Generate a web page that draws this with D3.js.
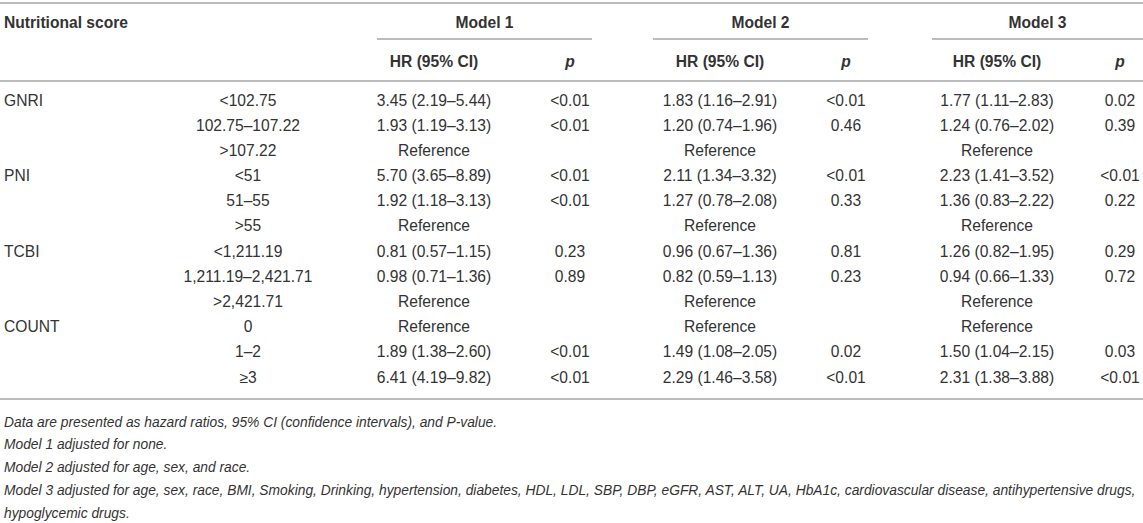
<!DOCTYPE html>
<html>
<head>
<meta charset="utf-8">
<script src="https://cdn.jsdelivr.net/npm/d3@7"></script>
<style>
  html, body { margin: 0; padding: 0; background: #fff; }
  svg { display: block; }
</style>
</head>
<body>
<div id="table"></div>
<script>
// 表格数据
const scoreLabels = ['GNRI', '', '', 'PNI', '', '', 'TCBI', '', '', 'COUNT', '', ''];
const categories = ['<102.75', '102.75–107.22', '>107.22', '<51', '51–55', '>55',
    '<1,211.19', '1,211.19–2,421.71', '>2,421.71', '0', '1–2', '≥3'];

const model1HR = ['3.45 (2.19–5.44)', '1.93 (1.19–3.13)', 'Reference', '5.70 (3.65–8.89)', '1.92 (1.18–3.13)', 'Reference',
    '0.81 (0.57–1.15)', '0.98 (0.71–1.36)', 'Reference', 'Reference', '1.89 (1.38–2.60)', '6.41 (4.19–9.82)'];
const model1P = ['<0.01', '<0.01', '', '<0.01', '<0.01', '', '0.23', '0.89', '', '', '<0.01', '<0.01'];

const model2HR = ['1.83 (1.16–2.91)', '1.20 (0.74–1.96)', 'Reference', '2.11 (1.34–3.32)', '1.27 (0.78–2.08)', 'Reference',
    '0.96 (0.67–1.36)', '0.82 (0.59–1.13)', 'Reference', 'Reference', '1.49 (1.08–2.05)', '2.29 (1.46–3.58)'];
const model2P = ['<0.01', '0.46', '', '<0.01', '0.33', '', '0.81', '0.23', '', '', '0.02', '<0.01'];

const model3HR = ['1.77 (1.11–2.83)', '1.24 (0.76–2.02)', 'Reference', '2.23 (1.41–3.52)', '1.36 (0.83–2.22)', 'Reference',
    '1.26 (0.82–1.95)', '0.94 (0.66–1.33)', 'Reference', 'Reference', '1.50 (1.04–2.15)', '2.31 (1.38–3.88)'];
const model3P = ['0.02', '0.39', '', '<0.01', '0.22', '', '0.29', '0.72', '', '', '0.03', '<0.01'];

const modelNames = ['Model 1', 'Model 2', 'Model 3'];
const subHeaders = ['HR (95% CI)', 'p'];

const footnotes = [
    'Data are presented as hazard ratios, 95% CI (confidence intervals), and P-value.',
    'Model 1 adjusted for none.',
    'Model 2 adjusted for age, sex, and race.',
    'Model 3 adjusted for age, sex, race, BMI, Smoking, Drinking, hypertension, diabetes, HDL, LDL, SBP, DBP, eGFR, AST, ALT, UA, HbA1c, cardiovascular disease, antihypertensive drugs,',
    'hypoglycemic drugs.'
];

const width = 1143;
const height = 523;
const textColor = '#333';
const ruleColor = '#a6a6a6';
const fontFamily = '"Liberation Sans", Arial, Helvetica, sans-serif';
const fontSize = '15.6px';
const noteSize = '13.8px';

const svg = d3.select('#table')
    .append('svg')
    .attr('width', width)
    .attr('height', height)
    .attr('font-family', fontFamily)
    .attr('font-size', fontSize)
    .attr('fill', textColor);

// 列位置
const colKeys = ['cat', 'hr1', 'p1', 'hr2', 'p2', 'hr3', 'p3'];
const xCol = d3.scaleOrdinal()
    .domain(colKeys)
    .range([248, 434, 570, 720, 846, 997, 1120]);

// 模型分组跨度
const modelSpan = d3.scaleOrdinal()
    .domain(modelNames)
    .range([[377, 592], [653, 868], [932, 1143]]);

// 行位置
const rowIdx = d3.range(categories.length);
const yRow = d3.scaleLinear()
    .domain([0, categories.length - 1])
    .range([100, 377]);

const yNote = d3.scaleLinear()
    .domain([0, footnotes.length - 1])
    .range([422, 513]);

// 横线
function rule(x1, x2, y) {
    svg.append('line')
        .attr('x1', x1).attr('x2', x2)
        .attr('y1', y).attr('y2', y)
        .attr('stroke', ruleColor)
        .attr('stroke-width', 1.5);
}
rule(0, width, 3);
rule(0, width, 81);
rule(0, width, 399);

// 表头第一行
svg.append('text')
    .attr('x', 4)
    .attr('y', 22)
    .attr('dominant-baseline', 'central')
    .attr('font-weight', 'bold')
    .text('Nutritional score');

svg.selectAll('.model-head')
    .data(modelNames)
    .enter()
    .append('text')
    .attr('class', 'model-head')
    .attr('x', d => d3.mean(modelSpan(d)))
    .attr('y', 22)
    .attr('text-anchor', 'middle')
    .attr('dominant-baseline', 'central')
    .attr('font-weight', 'bold')
    .text(d => d);

modelNames.forEach(m => {
    const [a, b] = modelSpan(m);
    rule(a, b, 39);
});

// 表头第二行
const subHeadData = modelNames.flatMap((m, i) => [
    { key: 'hr' + (i + 1), text: subHeaders[0], italic: false },
    { key: 'p' + (i + 1), text: subHeaders[1], italic: true }
]);

svg.selectAll('.sub-head')
    .data(subHeadData)
    .enter()
    .append('text')
    .attr('class', 'sub-head')
    .attr('x', d => xCol(d.key))
    .attr('y', 61)
    .attr('text-anchor', 'middle')
    .attr('dominant-baseline', 'central')
    .attr('font-weight', 'bold')
    .attr('font-style', d => d.italic ? 'italic' : 'normal')
    .text(d => d.text);

// 数据单元格
const columns = {
    cat: categories,
    hr1: model1HR, p1: model1P,
    hr2: model2HR, p2: model2P,
    hr3: model3HR, p3: model3P
};

const cells = rowIdx.flatMap(i => colKeys.map(k => ({ i, k, text: columns[k][i] })))
    .filter(d => d.text !== '');

svg.selectAll('.cell')
    .data(cells)
    .enter()
    .append('text')
    .attr('class', 'cell')
    .attr('x', d => xCol(d.k))
    .attr('y', d => yRow(d.i))
    .attr('text-anchor', 'middle')
    .attr('dominant-baseline', 'central')
    .text(d => d.text);

svg.selectAll('.score')
    .data(rowIdx.filter(i => scoreLabels[i] !== ''))
    .enter()
    .append('text')
    .attr('class', 'score')
    .attr('x', 4)
    .attr('y', d => yRow(d))
    .attr('dominant-baseline', 'central')
    .text(d => scoreLabels[d]);

// 脚注
svg.selectAll('.note')
    .data(footnotes)
    .enter()
    .append('text')
    .attr('class', 'note')
    .attr('x', 4)
    .attr('y', (d, i) => yNote(i))
    .attr('dominant-baseline', 'central')
    .attr('font-style', 'italic')
    .attr('font-size', noteSize)
    .text(d => d);
</script>
</body>
</html>
